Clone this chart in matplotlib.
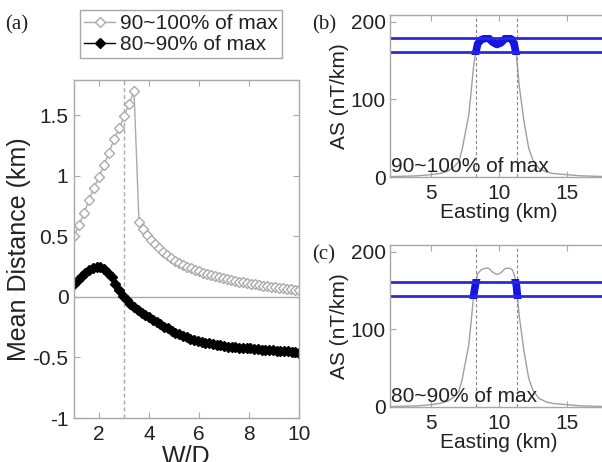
import numpy as np
import matplotlib
matplotlib.use("Agg")
import matplotlib.pyplot as plt
from matplotlib.ticker import FuncFormatter
from matplotlib.patches import Rectangle

plt.rcParams['font.family'] = ['Liberation Sans', 'DejaVu Sans']
plt.rcParams['axes.unicode_minus'] = False

# (a) mean distance vs W/D
wd_top_rise = [1.0, 1.2, 1.4, 1.6, 1.8, 2.0, 2.2, 2.4, 2.6, 2.8, 3.0, 3.2, 3.4]
md_top_rise = [0.50, 0.595, 0.69, 0.80, 0.90, 0.99, 1.09, 1.19, 1.30, 1.39, 1.49, 1.59, 1.70]
md_top_decay = [0.62, 0.56, 0.51, 0.47, 0.435, 0.40, 0.37, 0.345, 0.32, 0.30, 0.28,
                0.265, 0.25, 0.235, 0.22, 0.21, 0.20, 0.19, 0.18, 0.17, 0.162, 0.155,
                0.148, 0.14, 0.133, 0.126, 0.12, 0.114, 0.108, 0.102, 0.097, 0.092,
                0.087, 0.082, 0.078, 0.074, 0.07, 0.066, 0.062, 0.058, 0.055]
wd_top_decay = np.linspace(3.6, 10.0, len(md_top_decay))

md_low = [0.11, 0.14, 0.17, 0.20, 0.22, 0.24, 0.245, 0.245, 0.23, 0.20, 0.16, 0.11,
          0.06, 0.01, -0.025, -0.055, -0.08, -0.105, -0.13, -0.15, -0.17, -0.19,
          -0.21, -0.225, -0.245, -0.26, -0.28, -0.295, -0.31, -0.32, -0.335, -0.345,
          -0.355, -0.365, -0.37, -0.38, -0.385, -0.39, -0.395, -0.40, -0.405, -0.41,
          -0.41, -0.415, -0.42, -0.42, -0.425, -0.425, -0.43, -0.43, -0.435, -0.435,
          -0.44, -0.44, -0.445, -0.445, -0.45, -0.45, -0.455, -0.455, -0.46]
wd_low = np.linspace(1.0, 10.0, len(md_low))
wd_mark = 3.0

# (b)/(c) analytic signal profile
easting = [2.0, 3.0, 4.0, 5.0, 5.8, 6.3, 6.7, 7.06, 7.3, 7.55, 7.79, 7.92, 8.16, 8.3,
           8.45, 8.7, 9.0, 9.26, 9.55, 9.85, 10.15, 10.49, 10.8, 11.0, 11.15, 11.3,
           11.5, 11.85, 12.2, 12.5, 12.95, 13.5, 14.0, 15.0, 16.0, 17.0, 18.0]
as_vals = [0.5, 1, 1.5, 3, 5, 8, 13, 20, 35, 58, 80, 102, 145, 160,
           172, 177, 179, 179, 174, 171, 173, 179, 179, 177, 170, 156,
           118, 72, 37, 22, 11, 6.5, 4.5, 3, 1.5, 1, 0.5]
edges = [8.3, 11.33]

W, H = 602, 462
fig = plt.figure(figsize=(W / 100, H / 100), dpi=100)

def fax(l, t, w, h):
    return fig.add_axes([l / W, 1 - (t + h) / H, w / W, h / H])

spine_c = '#a8a8a8'
txt_c = '#222222'
FS = 15

def style(ax):
    for s in ax.spines.values():
        s.set_color(spine_c)
        s.set_linewidth(1.0)
    ax.tick_params(direction='in', top=True, right=True, length=4, width=0.8,
                   color=spine_c, labelcolor=txt_c, labelsize=FS)
    ax.tick_params(axis='x', pad=5)
    ax.tick_params(axis='y', pad=4)

gfmt = FuncFormatter(lambda v, p: ('%g' % v))

# panel (a)
ax = fax(74, 80, 225, 338)
style(ax)
ax.axhline(0, color='#aaaaaa', lw=1)
ax.axvline(wd_mark, color='#aaaaaa', lw=1, ls='--', dashes=(3, 2))
ax.plot(np.r_[wd_top_rise, wd_top_decay], np.r_[md_top_rise, md_top_decay],
        color='#aaaaaa', lw=1, marker='D', ms=4.8, mfc='white', mec='#aaaaaa', mew=1,
        label='90~100% of max')
ax.plot(wd_low, md_low, color='black', lw=1, marker='D', ms=5, mfc='black', mec='black',
        label='80~90% of max')
ax.set_xlim(1, 10)
ax.set_ylim(-1, 1.79)
ax.set_xticks([2, 4, 6, 8, 10])
ax.set_yticks([-1, -0.5, 0, 0.5, 1, 1.5])
ax.xaxis.set_major_formatter(gfmt)
ax.yaxis.set_major_formatter(gfmt)
ax.set_xlabel('W/D', fontsize=18, color=txt_c, labelpad=1)
ax.set_ylabel('Mean Distance (km)', fontsize=18, color=txt_c, labelpad=1)
leg = ax.legend(loc='upper left', bbox_to_anchor=(80 / W, 1 - 10 / H),
                bbox_transform=fig.transFigure, borderaxespad=0, fontsize=FS,
                fancybox=False, edgecolor=spine_c, handlelength=1.5,
                handletextpad=0.2, borderpad=0.2, labelspacing=0.1, framealpha=1)
leg.get_frame().set_linewidth(1.0)
for t in leg.get_texts():
    t.set_color(txt_c)
fig.text(5 / W, 1 - 25 / H, '(a)', family='Liberation Serif', fontsize=15,
         color=txt_c, va='center', ha='left')

# panels (b) and (c)
peak = max(as_vals)
bands = [(0.9 * peak, peak), (0.8 * peak, 0.9 * peak)]
tops = [15, 245]
labels = ['90~100% of max', '80~90% of max']
tags = ['(b)', '(c)']
for top, (lo, hi), lab, tag in zip(tops, bands, labels, tags):
    axb = fax(390, top, 217.6, 162)
    style(axb)
    axb.tick_params(axis='y', pad=3)
    axb.plot(easting, as_vals, color='#a0a0a0', lw=1)
    for e in edges:
        axb.axvline(e, color='#888888', lw=0.8, ls='--', dashes=(3, 2))
    thick, = axb.plot(easting, as_vals, color='#1414e6', lw=5.5, solid_capstyle='butt')
    clip = Rectangle((0, lo - 4), 30, (hi - lo) + 8, transform=axb.transData)
    thick.set_clip_path(clip)
    axb.axhline(lo, color='#2a2ad8', lw=2)
    axb.axhline(hi, color='#2a2ad8', lw=2)
    axb.set_xlim(2, 18)
    axb.set_ylim(0, 209)
    axb.set_xticks([5, 10, 15])
    axb.set_yticks([0, 100, 200])
    axb.set_xlabel('Easting (km)', fontsize=FS, color=txt_c, labelpad=0)
    axb.set_ylabel('AS (nT/km)', fontsize=FS, color=txt_c, labelpad=1)
    axb.text(2.05, 1, lab, fontsize=FS, color=txt_c, ha='left', va='bottom')
    fig.text(312 / W, 1 - (top + 10) / H, tag, family='Liberation Serif', fontsize=15,
             color=txt_c, va='center', ha='left')

fig.savefig('out.png', dpi=100)
